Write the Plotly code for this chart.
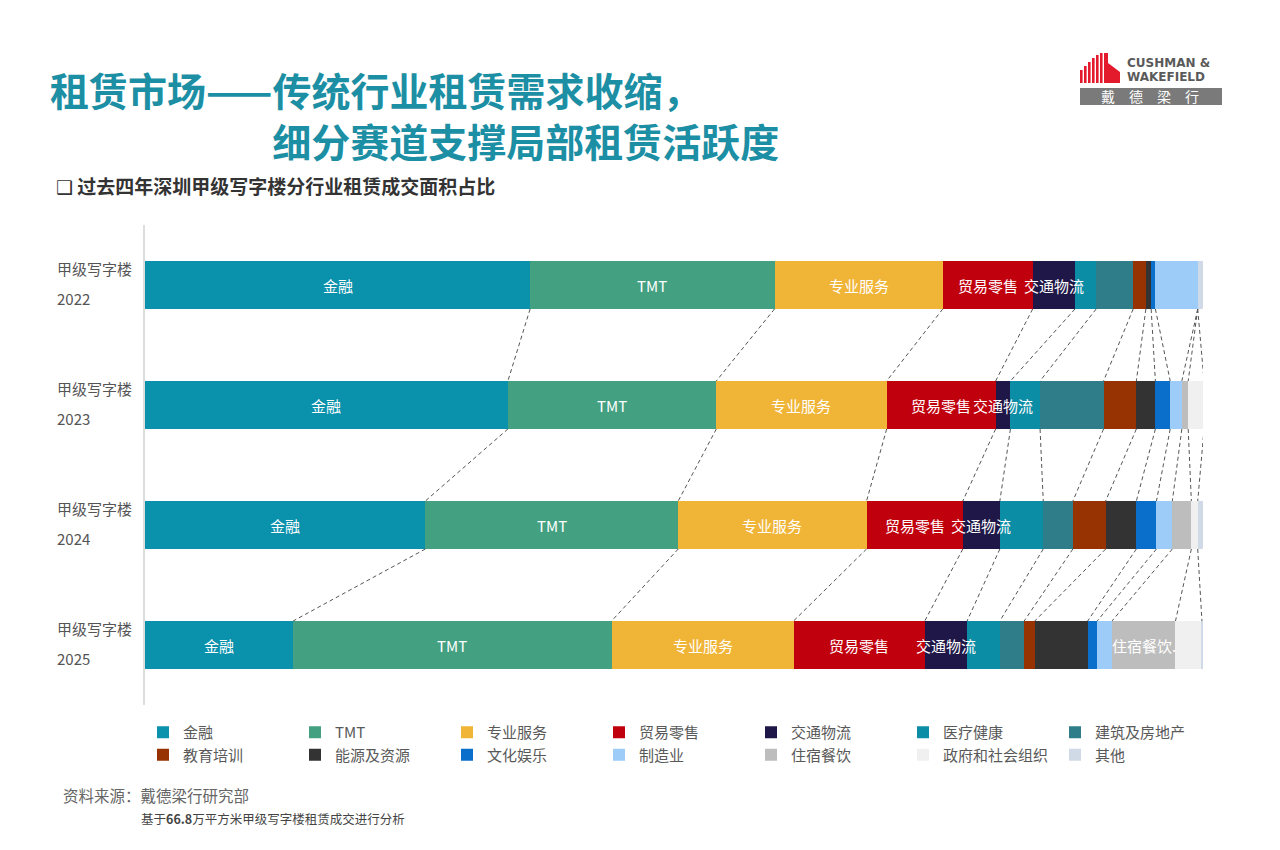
import plotly.graph_objects as go

# ---------------- data ----------------
years = ["2022", "2023", "2024", "2025"]
row_label = "甲级写字楼"
categories = ["金融", "TMT", "专业服务", "贸易零售", "交通物流", "医疗健康", "建筑及房地产",
              "教育培训", "能源及资源", "文化娱乐", "制造业", "住宿餐饮", "政府和社会组织", "其他"]
colors = ["#0A91AB", "#43A081", "#F0B437", "#C1000E", "#1E1747", "#0C8DA6", "#2F7D89",
          "#973302", "#333333", "#0A6FCB", "#9DCCF8", "#BDBDBD", "#F0F0F0", "#CFDAE6"]
# share (%) per category, order = years
v_jinrong   = [36.4, 34.3, 26.5, 14.0]
v_tmt       = [23.1, 19.7, 23.9, 30.1]
v_zhuanye   = [15.9, 16.1, 17.8, 17.2]
v_maoyi     = [8.5, 10.3, 9.1, 12.4]
v_jiaotong  = [4.0, 1.4, 3.5, 4.0]
v_yiliao    = [2.0, 2.8, 4.1, 3.1]
v_jianzhu   = [3.5, 6.0, 2.8, 2.3]
v_jiaoyu    = [1.2, 3.1, 3.1, 1.0]
v_nengyuan  = [0.5, 1.8, 2.9, 5.0]
v_wenhua    = [0.4, 1.4, 1.9, 0.9]
v_zhizao    = [4.0, 1.1, 1.5, 1.4]
v_zhusu     = [0.0, 0.6, 1.8, 6.0]
v_zhengfu   = [0.0, 1.5, 0.6, 2.5]
v_qita      = [0.6, 0.0, 0.6, 0.1]
series = [v_jinrong, v_tmt, v_zhuanye, v_maoyi, v_jiaotong, v_yiliao, v_jianzhu,
          v_jiaoyu, v_nengyuan, v_wenhua, v_zhizao, v_zhusu, v_zhengfu, v_qita]
# in-bar labels: category -> years that show the label
bar_labels = {"金融": years, "TMT": years, "专业服务": years, "贸易零售": years,
              "交通物流": years, "住宿餐饮": ["2025"]}
label_text_override = {("住宿餐饮", "2025"): "住宿餐饮."}

title_line1 = "租赁市场——传统行业租赁需求收缩，"
title_line2 = "细分赛道支撑局部租赁活跃度"
subtitle = "❑ 过去四年深圳甲级写字楼分行业租赁成交面积占比"
source_text = "资料来源：戴德梁行研究部"
note_text = "基于<b>66.8</b>万平方米甲级写字楼租赁成交进行分析"

# ---------------- layout geometry ----------------
W, H = 1280, 850
L, R, T, B = 145, 77, 225, 145
PW, PH = W - L - R, H - T - B
BAR_W = 0.4
FONT = "Noto Sans CJK SC, Noto Sans, sans-serif"


def px(x):
    return (x - L) / PW


def py(y):
    return (H - B - y) / PH


ypos = list(range(len(years)))
fig = go.Figure()

for name, vals, col in zip(categories, series, colors):
    fig.add_trace(go.Bar(
        name=name, x=vals, y=ypos, orientation="h", width=BAR_W,
        marker=dict(color=col, line=dict(width=0)),
        hoverinfo="skip",
    ))

# cumulative boundaries
starts = []
cums = []
for i in range(len(years)):
    st, c, acc = [], [], 0.0
    for s in series:
        st.append(acc)
        acc += s[i]
        c.append(acc)
    starts.append(st)
    cums.append(c[:-1])

# dashed connectors between cumulative boundaries of successive years
lx, ly = [], []
for i in range(len(years) - 1):
    for k in range(len(series) - 1):
        lx += [cums[i][k], cums[i + 1][k], None]
        ly += [ypos[i] + BAR_W / 2, ypos[i + 1] - BAR_W / 2, None]
fig.add_trace(go.Scatter(x=lx, y=ly, mode="lines", showlegend=False, hoverinfo="skip",
                         line=dict(color="#555555", width=1, dash="4px,3px")))

annotations = []
# in-bar labels (drawn above all bars so they can overflow their segment)
for k, name in enumerate(categories):
    for i, yr in enumerate(years):
        if yr in bar_labels.get(name, []):
            annotations.append(dict(
                xref="x", yref="y", x=starts[i][k] + series[k][i] / 2, y=ypos[i],
                text=label_text_override.get((name, yr), name), showarrow=False,
                xanchor="center", yanchor="middle",
                font=dict(size=15, color="white", family=FONT)))

# y labels
for i, yr in enumerate(years):
    annotations.append(dict(xref="paper", yref="y", x=px(55), y=ypos[i] - 0.135, text=row_label,
                            showarrow=False, xanchor="left", yanchor="middle",
                            font=dict(size=15, color="#555555", family=FONT)))
    annotations.append(dict(xref="paper", yref="y", x=px(55), y=ypos[i] + 0.115, text=yr,
                            showarrow=False, xanchor="left", yanchor="middle",
                            font=dict(size=15, color="#555555", family=FONT)))

title_col = "#1C8FA4"
indent = "\u3000" * 5 + "\u2002" + "\u2009"
annotations += [
    dict(xref="paper", yref="paper", x=px(48), y=py(115),
         text="<b>" + title_line1 + "<br>" + indent + title_line2 + "</b>",
         showarrow=False, xanchor="left", yanchor="middle", align="left",
         font=dict(size=39, color=title_col, family=FONT)),
    dict(xref="paper", yref="paper", x=px(54), y=py(185), text="<b>" + subtitle + "</b>",
         showarrow=False, xanchor="left", yanchor="middle",
         font=dict(size=19, color="#333333", family="Noto Sans CJK SC, DejaVu Sans, sans-serif")),
    dict(xref="paper", yref="paper", x=px(61), y=py(795), text=source_text,
         showarrow=False, xanchor="left", yanchor="middle", font=dict(size=15.5, color="#666666", family=FONT)),
    dict(xref="paper", yref="paper", x=px(139), y=py(818), text=note_text,
         showarrow=False, xanchor="left", yanchor="middle", font=dict(size=12.5, color="#444444", family=FONT)),
    # logo texts
    dict(xref="paper", yref="paper", x=px(1125), y=py(63), text="<b>CUSHMAN &amp;</b>",
         showarrow=False, xanchor="left", yanchor="middle",
         font=dict(size=12, color="#5a5a5a", family="DejaVu Sans, sans-serif")),
    dict(xref="paper", yref="paper", x=px(1125), y=py(77.5), text="<b>WAKEFIELD</b>",
         showarrow=False, xanchor="left", yanchor="middle",
         font=dict(size=12, color="#5a5a5a", family="DejaVu Sans, sans-serif")),
    dict(xref="paper", yref="paper", x=px(1150), y=py(96.5), text="戴　德　梁　行",
         showarrow=False, xanchor="center", yanchor="middle", font=dict(size=14, color="white", family=FONT)),
]

shapes = [
    dict(type="rect", xref="paper", yref="paper", x0=px(1080), x1=px(1222), y0=py(105), y1=py(88),
         fillcolor="#7A7A7A", line=dict(width=0), layer="below"),
]
# logo red stripes (decorative)
stripe_tops = [70, 66, 62, 58, 55, 53]
for j, top in enumerate(stripe_tops):
    x0 = 1080 + j * 4
    shapes.append(dict(type="rect", xref="paper", yref="paper", x0=px(x0), x1=px(x0 + 2.6),
                       y0=py(83), y1=py(top), fillcolor="#E3192C", line=dict(width=0)))
shapes.append(dict(type="path", xref="paper", yref="paper",
                   path="M{},{} L{},{} L{},{} L{},{} L{},{} L{},{} Z".format(
                       px(1104), py(53), px(1108), py(53), px(1108), py(63),
                       px(1120), py(72), px(1120), py(83), px(1104), py(83)),
                   fillcolor="#E3192C", line=dict(width=0)))

fig.update_layout(
    width=W, height=H, barmode="stack", bargap=0.6,
    margin=dict(l=L, r=R, t=T, b=B, pad=0),
    paper_bgcolor="white", plot_bgcolor="white",
    xaxis=dict(range=[0, 100], visible=False, fixedrange=True),
    yaxis=dict(range=[len(years) - 0.5, -0.5], showticklabels=False, showgrid=False, zeroline=False,
               showline=True, linecolor="#DDDDDD", linewidth=1.5, ticks="", fixedrange=True),
    showlegend=True,
    legend=dict(orientation="h", x=px(143), xanchor="left", y=py(716), yanchor="top",
                entrywidth=107, traceorder="normal", itemclick=False, itemdoubleclick=False,
                font=dict(size=15, color="#595959", family=FONT), bgcolor="rgba(0,0,0,0)"),
    annotations=annotations, shapes=shapes,
    font=dict(family=FONT),
)

fig.write_html("out.html")
